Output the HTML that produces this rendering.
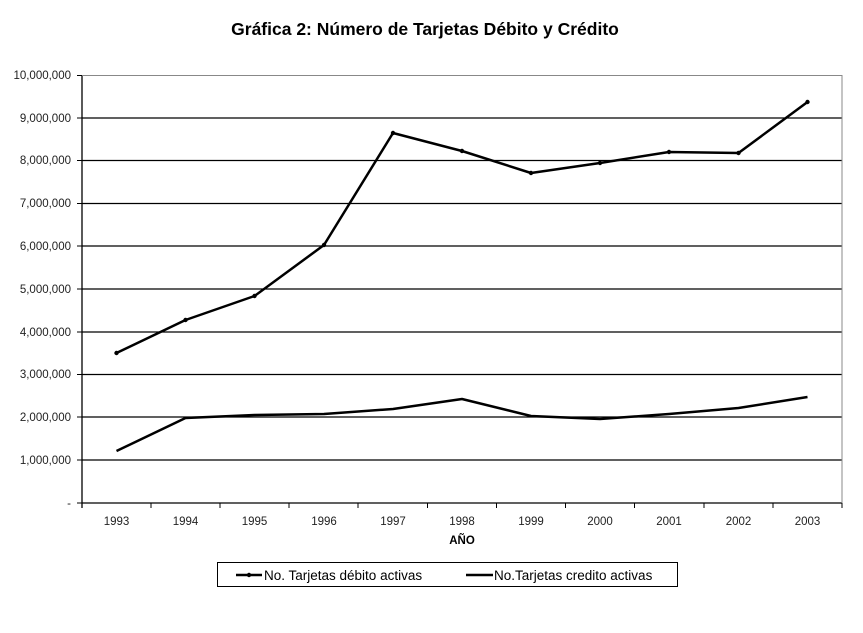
<!DOCTYPE html><html><head><style>body{margin:0;background:#fff}svg{display:block}text{font-family:"Liberation Sans",Arial,sans-serif}</style></head><body>
<svg width="863" height="633" viewBox="0 0 863 633">
<text x="425" y="35" font-size="17.5" font-weight="bold" text-anchor="middle">Gráfica 2: Número de Tarjetas Débito y Crédito</text>
<g stroke="#000" stroke-width="1.3">
<line x1="82" y1="118" x2="842" y2="118"/><line x1="82" y1="160.5" x2="842" y2="160.5"/><line x1="82" y1="203.5" x2="842" y2="203.5"/><line x1="82" y1="246" x2="842" y2="246"/><line x1="82" y1="289" x2="842" y2="289"/><line x1="82" y1="332" x2="842" y2="332"/><line x1="82" y1="374.5" x2="842" y2="374.5"/><line x1="82" y1="417" x2="842" y2="417"/><line x1="82" y1="460" x2="842" y2="460"/>
<line x1="82" y1="503" x2="842" y2="503"/><line x1="82" y1="75" x2="82" y2="508"/>
</g>
<polyline points="82,75.5 842,75.5 842,503" fill="none" stroke="#888" stroke-width="1"/>
<g stroke="#000" stroke-width="1">
<line x1="77" y1="75.5" x2="82" y2="75.5"/><line x1="77" y1="118" x2="82" y2="118"/><line x1="77" y1="160.5" x2="82" y2="160.5"/><line x1="77" y1="203.5" x2="82" y2="203.5"/><line x1="77" y1="246" x2="82" y2="246"/><line x1="77" y1="289" x2="82" y2="289"/><line x1="77" y1="332" x2="82" y2="332"/><line x1="77" y1="374.5" x2="82" y2="374.5"/><line x1="77" y1="417" x2="82" y2="417"/><line x1="77" y1="460" x2="82" y2="460"/><line x1="77" y1="503" x2="82" y2="503"/>
<line x1="151" y1="503" x2="151" y2="508"/><line x1="220" y1="503" x2="220" y2="508"/><line x1="289" y1="503" x2="289" y2="508"/><line x1="358" y1="503" x2="358" y2="508"/><line x1="427.5" y1="503" x2="427.5" y2="508"/><line x1="496.5" y1="503" x2="496.5" y2="508"/><line x1="565.5" y1="503" x2="565.5" y2="508"/><line x1="634.5" y1="503" x2="634.5" y2="508"/><line x1="704" y1="503" x2="704" y2="508"/><line x1="773" y1="503" x2="773" y2="508"/><line x1="842" y1="503" x2="842" y2="508"/>
</g>
<g font-size="11.5" text-anchor="end" fill="#222">
<text x="71" y="79">10,000,000</text><text x="71" y="122">9,000,000</text><text x="71" y="164">8,000,000</text><text x="71" y="207">7,000,000</text><text x="71" y="250">6,000,000</text><text x="71" y="293">5,000,000</text><text x="71" y="336">4,000,000</text><text x="71" y="378">3,000,000</text><text x="71" y="421">2,000,000</text><text x="71" y="464">1,000,000</text><text x="71" y="507">-</text>
</g>
<g font-size="11.5" text-anchor="middle" fill="#222">
<text x="116.5" y="525">1993</text><text x="185.5" y="525">1994</text><text x="254.5" y="525">1995</text><text x="324" y="525">1996</text><text x="393" y="525">1997</text><text x="462" y="525">1998</text><text x="531" y="525">1999</text><text x="600" y="525">2000</text><text x="669" y="525">2001</text><text x="738.5" y="525">2002</text><text x="807.5" y="525">2003</text>
</g>
<text x="462" y="544" font-size="11.5" font-weight="bold" text-anchor="middle">AÑO</text>
<polyline points="116.5,353 185.5,320 254.5,296 324,245 393,133 462,151 531,173 600,163 669,152 738.5,153 807.5,102" fill="none" stroke="#000" stroke-width="2.5" stroke-linejoin="round"/>
<g fill="#000"><circle cx="116.5" cy="353" r="2.2"/><circle cx="185.5" cy="320" r="2.2"/><circle cx="254.5" cy="296" r="2.2"/><circle cx="324" cy="245" r="2.2"/><circle cx="393" cy="133" r="2.2"/><circle cx="462" cy="151" r="2.2"/><circle cx="531" cy="173" r="2.2"/><circle cx="600" cy="163" r="2.2"/><circle cx="669" cy="152" r="2.2"/><circle cx="738.5" cy="153" r="2.2"/><circle cx="807.5" cy="102" r="2.2"/></g>
<polyline points="116.5,451 185.5,418 254.5,415 324,414 393,409 462,399 531,416 600,419 669,414 738.5,408 807.5,397" fill="none" stroke="#000" stroke-width="2.5" stroke-linejoin="round"/>
<rect x="217.5" y="562.5" width="460" height="24" fill="none" stroke="#000" stroke-width="1"/>
<line x1="236" y1="575" x2="262" y2="575" stroke="#000" stroke-width="2.5"/><circle cx="249" cy="575" r="2.2"/>
<text x="264" y="580" font-size="13.5">No. Tarjetas débito activas</text>
<line x1="466" y1="575" x2="493" y2="575" stroke="#000" stroke-width="2.5"/>
<text x="494" y="580" font-size="13.5">No.Tarjetas credito activas</text>
</svg></body></html>
